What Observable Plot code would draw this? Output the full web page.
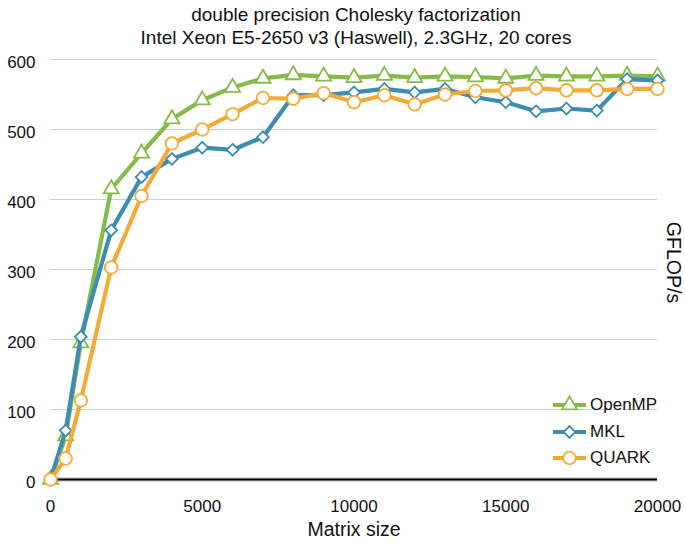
<!DOCTYPE html>
<html>
<head>
<meta charset="utf-8">
<script src="https://cdn.jsdelivr.net/npm/d3@7"></script>
<script src="https://cdn.jsdelivr.net/npm/@observablehq/plot@0.6"></script>
<style>
  html, body { margin: 0; padding: 0; background: #fff; }
  #wrap { position: relative; width: 685px; height: 543px; font-family: "Liberation Sans", Arial, sans-serif; color: #111; }
  .title { position: absolute; left: 0; width: 712px; text-align: center; font-size: 19px; line-height: 22px; }
  .lab { position: absolute; font-size: 19.5px; white-space: nowrap; }
  #legend { position: absolute; left: 552px; top: 392px; font-size: 17px; }
  #legend .row { display: flex; align-items: center; height: 26.5px; }
  #legend svg { display: block; margin-right: 2px; }
</style>
</head>
<body>
<div id="wrap">
  <div class="title" style="top:4px">double precision Cholesky factorization</div>
  <div class="title" style="top:27px">Intel Xeon E5-2650 v3 (Haswell), 2.3GHz, 20 cores</div>
  <div class="lab" style="left:254px; width:200px; text-align:center; top:518px;">Matrix size</div>
  <div class="lab" style="left:623px; width:100px; text-align:center; top:251px; transform: rotate(90deg); transform-origin: 50% 50%;">GFLOP/s</div>
  <div id="legend"></div>
</div>
<script>
const sizes = [0, 500, 1000, 2000, 3000, 4000, 5000, 6000, 7000, 8000, 9000, 10000, 11000, 12000, 13000, 14000, 15000, 16000, 17000, 18000, 19000, 20000];
const openmp = [0, 62, 195, 415, 466, 515, 542, 560, 573, 578, 576, 574, 577, 574, 576, 575, 573, 577, 576, 576, 577, 576];
const mkl    = [0, 70, 204, 356, 432, 458, 474, 471, 489, 549, 549, 553, 558, 553, 558, 546, 539, 526, 530, 527, 572, 570];
const quark  = [0, 30, 113, 303, 405, 480, 500, 522, 545, 544, 552, 539, 549, 536, 550, 555, 556, 559, 556, 556, 558, 558];
const seriesNames = ["OpenMP", "MKL", "QUARK"];
const colors = ["#86bb48", "#3d8cb3", "#f4ab36"];
const symbols = ["triangle", "diamond2", "circle"];
const radii = [5.6, 5.3, 6.3];
const yTicks = [0, 100, 200, 300, 400, 500, 600];
const xTicks = [0, 5000, 10000, 15000, 20000];

const allValues = [openmp, mkl, quark];
const marks = [
  Plot.ruleY(yTicks.filter(d => d > 0), {stroke: "#cfcfcf", strokeWidth: 1.2}),
  Plot.ruleY([0], {stroke: "#d8d8d8", strokeWidth: 5}),
  Plot.ruleY([0], {stroke: "#000", strokeWidth: 2}),
  Plot.axisY(yTicks, {tickSize: 0, tickPadding: 15, dy: 3, label: null, fontSize: 17, tickFormat: d => String(d)}),
  Plot.axisX(xTicks, {tickSize: 0, tickPadding: 20, label: null, fontSize: 17, tickFormat: d => String(d)})
];
allValues.forEach((vals, i) => {
  const data = sizes.map((s, j) => ({x: s, y: vals[j]}));
  marks.push(Plot.line(data, {x: "x", y: "y", stroke: colors[i], strokeWidth: 4.2, strokeLinejoin: "round"}));
  marks.push(Plot.dot(data, {x: "x", y: "y", symbol: () => symbols[i], r: radii[i], fill: "#fff", stroke: colors[i], strokeWidth: 1.8}));
});

const chart = Plot.plot({
  width: 685,
  height: 543,
  marginTop: 59,
  marginBottom: 64,
  marginLeft: 50,
  marginRight: 28,
  style: {fontFamily: "Liberation Sans, Arial, sans-serif", fontSize: "17px", color: "#111", background: "transparent", overflow: "visible"},
  symbol: {type: "identity"},
  x: {domain: [0, 20000]},
  y: {domain: [0, 600]},
  marks: marks
});
chart.style.position = "absolute";
chart.style.left = "0px";
chart.style.top = "0px";
document.getElementById("wrap").prepend(chart);

// legend
const legend = document.getElementById("legend");
seriesNames.forEach((name, i) => {
  const row = document.createElement("div");
  row.className = "row";
  const sym = d3.symbol().type(i === 0 ? d3.symbolTriangle : i === 1 ? d3.symbolDiamond2 : d3.symbolCircle).size(Math.PI * radii[i] * radii[i]);
  row.innerHTML = `<svg width="36" height="20"><line x1="1" x2="34" y1="10" y2="10" stroke="${colors[i]}" stroke-width="4.2"/><path transform="translate(17.5,10)" d="${sym()}" fill="#fff" stroke="${colors[i]}" stroke-width="1.8"/></svg><span>${name}</span>`;
  legend.appendChild(row);
});
</script>
</body>
</html>
